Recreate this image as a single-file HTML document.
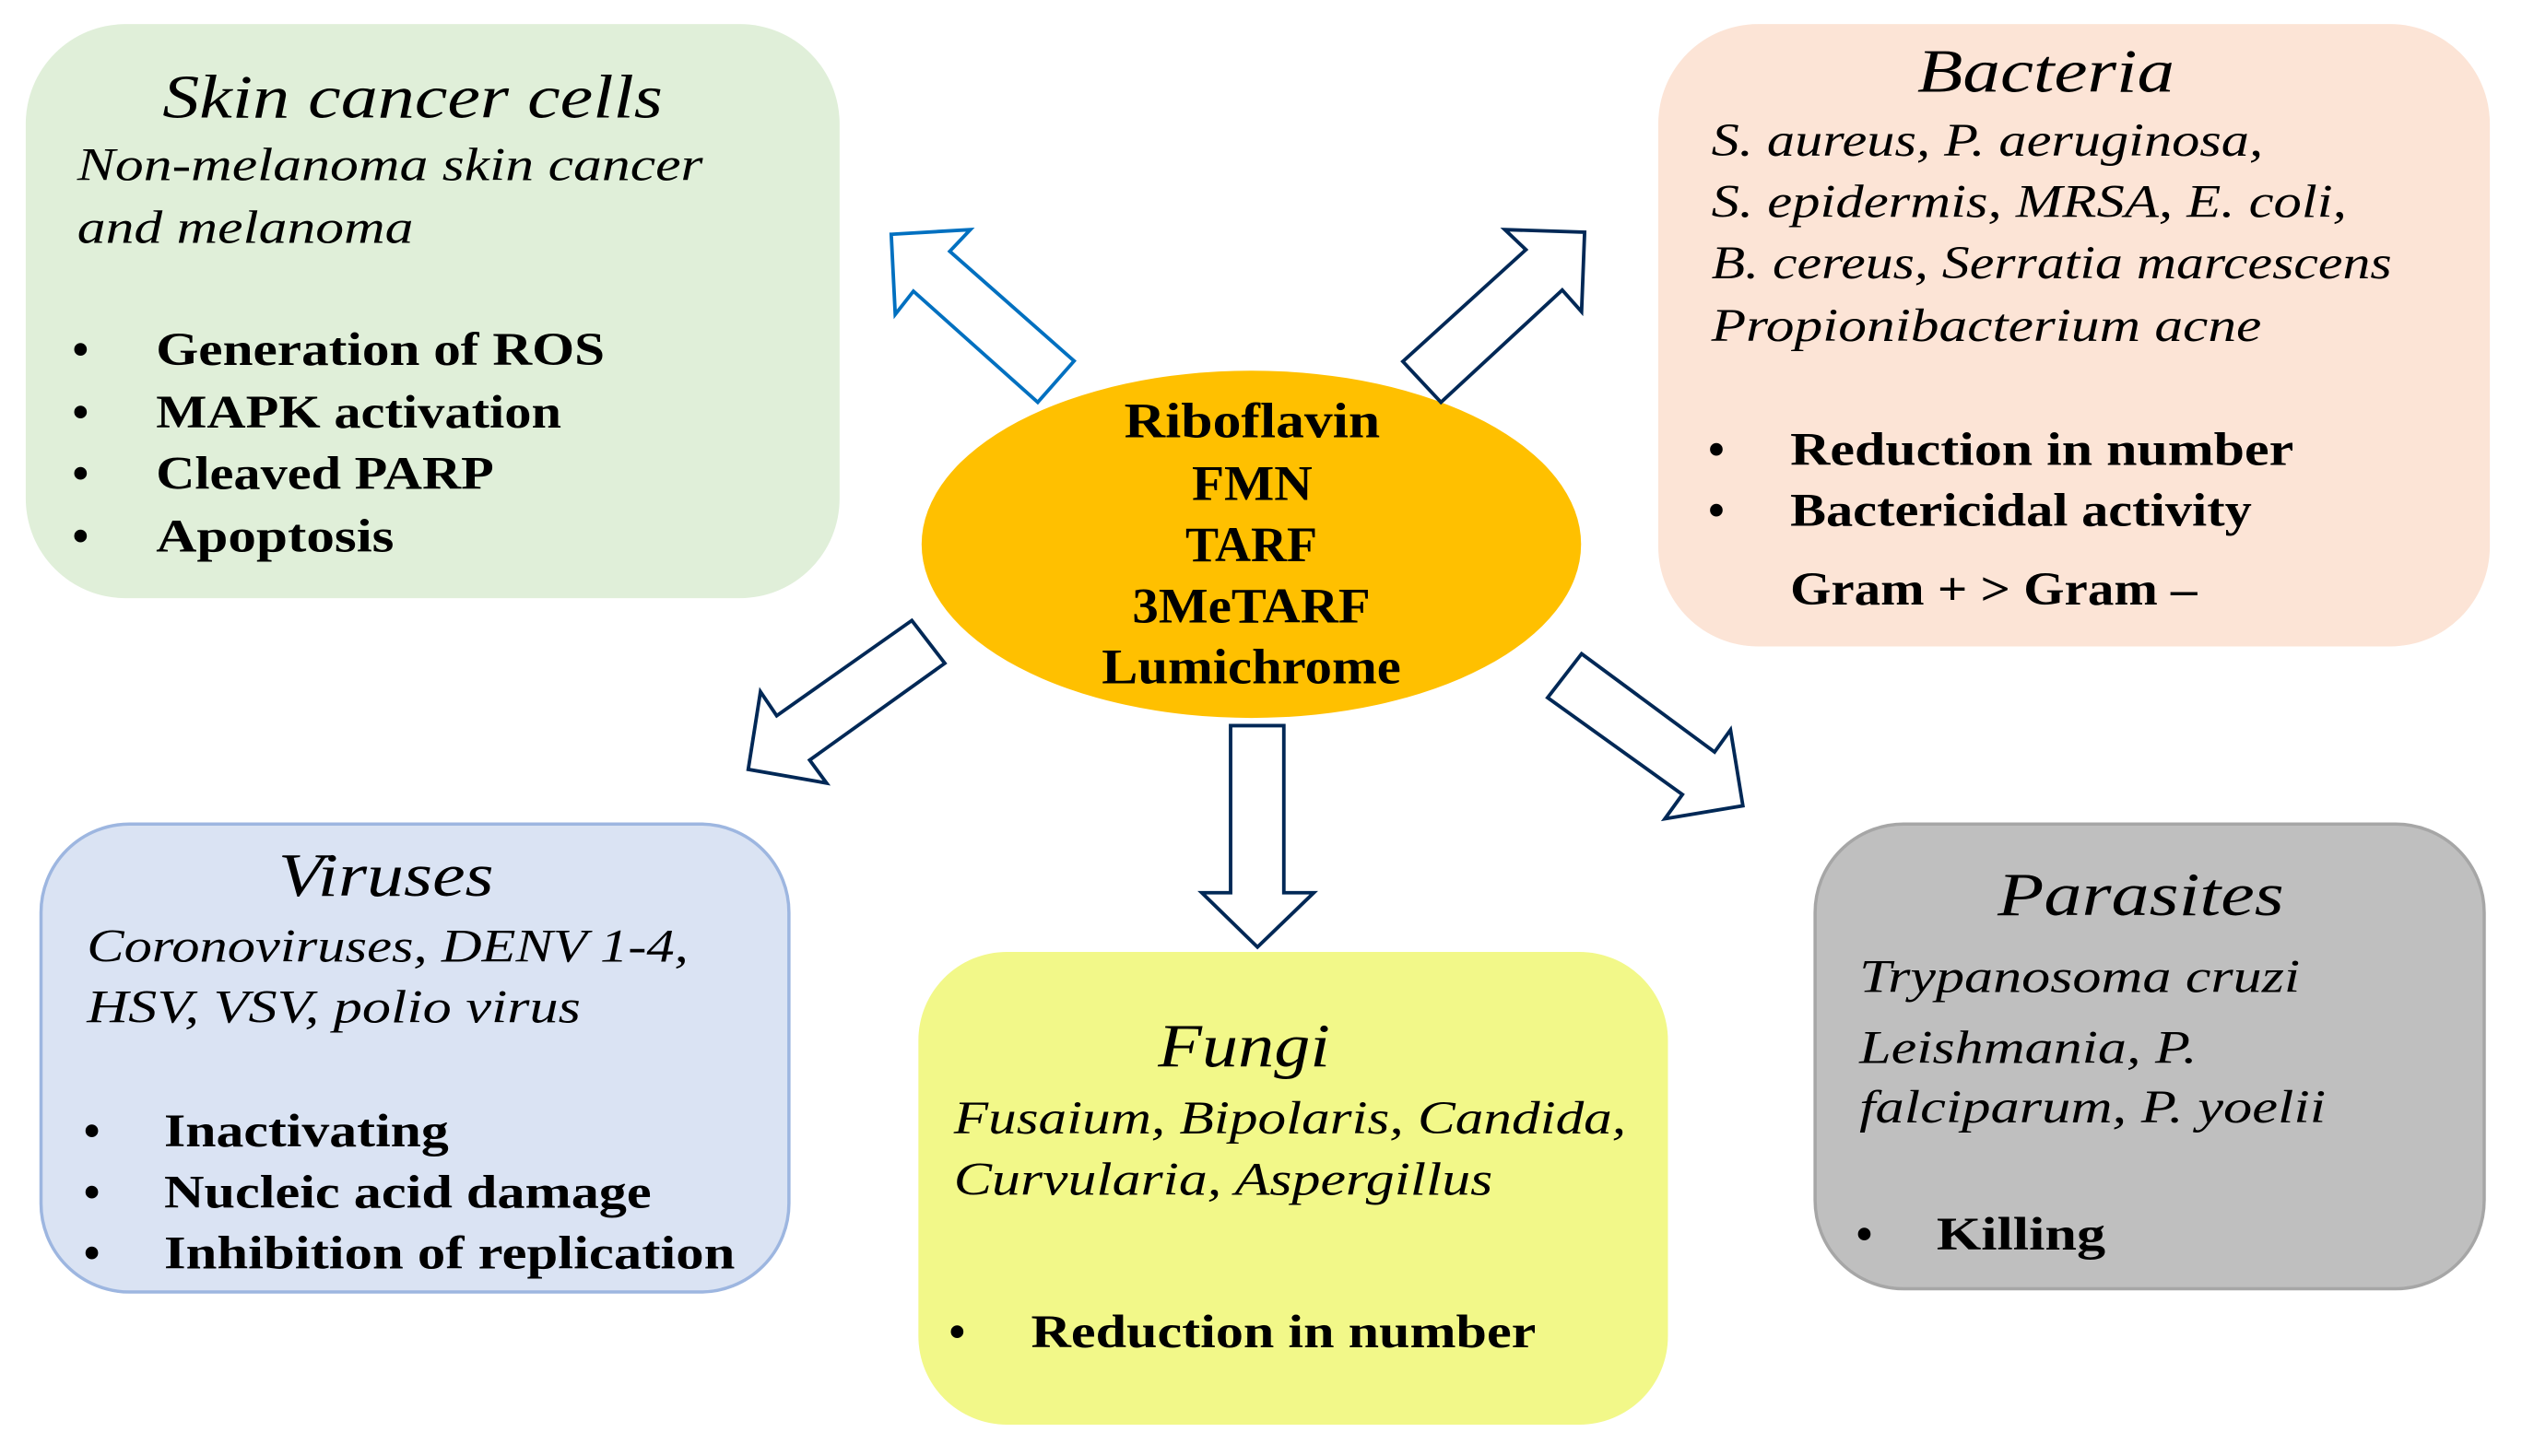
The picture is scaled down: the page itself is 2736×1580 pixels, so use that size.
<!DOCTYPE html>
<html><head><meta charset="utf-8"><style>
html,body{margin:0;padding:0;background:#fff}
svg{display:block}
text{font-family:"Liberation Serif","DejaVu Serif",serif;fill:#000}
.t{font-style:italic;font-size:38px}
.i{font-style:italic;font-size:29px}
.b{font-weight:bold;font-size:29px}
.c{font-weight:bold;font-size:31px}
</style></head><body>
<svg width="2736" height="1580" viewBox="0 0 1568 905.5" preserveAspectRatio="none" xmlns="http://www.w3.org/2000/svg">
<rect x="16" y="15" width="506" height="357" rx="62" fill="#e0efd9"/>
<rect x="1031" y="15" width="517" height="387" rx="62" fill="#fce4d6"/>
<rect x="25.5" y="512.5" width="465" height="291" rx="55" fill="#dae3f3" stroke="#9db6e0" stroke-width="2"/>
<rect x="571" y="592" width="466" height="294" rx="55" fill="#f2f889"/>
<rect x="1128.5" y="512.5" width="416" height="289" rx="55" fill="#bfbfbf" stroke="#a6a6a6" stroke-width="2"/>
<ellipse cx="778" cy="338.5" rx="205" ry="108" fill="#ffc000"/>
<g fill="#fff" stroke-width="2.2" stroke-linejoin="miter">
<polygon stroke="#0070c0" points="554.1,145.7 603.3,142.8 590.5,156.3 667.8,224.5 645.2,250.2 567.9,181.1 556.6,195.5"/>
<polygon stroke="#002856" points="935.6,142.8 985.2,144.4 983.3,193.9 971.3,180.4 895.9,250.2 872.2,224.8 948.7,155.3"/>
<polygon stroke="#002856" points="566.9,385.9 587.4,412.5 503.4,472.7 513.9,487 465.2,478.5 472.8,430.2 482.9,445.1"/>
<polygon stroke="#002856" points="765.1,451.3 798.2,451.3 798.2,555.2 816.8,555.2 781.8,589 747.2,555.2 765.1,555.2"/>
<polygon stroke="#002856" points="983.3,406.6 1066,467.7 1075.9,453.9 1083.6,501.1 1035.1,509.2 1046,494.1 962.2,433.9"/>
</g>
<text class="t" x="101" y="73" textLength="311" lengthAdjust="spacingAndGlyphs">Skin cancer cells</text>
<text class="i" x="48" y="112" textLength="389" lengthAdjust="spacingAndGlyphs">Non-melanoma skin cancer</text>
<text class="i" x="48" y="151" textLength="209" lengthAdjust="spacingAndGlyphs">and melanoma</text>
<text class="b" x="45" y="227">•</text><text class="b" x="97" y="227" textLength="279" lengthAdjust="spacingAndGlyphs">Generation of ROS</text>
<text class="b" x="45" y="266">•</text><text class="b" x="97" y="266" textLength="252" lengthAdjust="spacingAndGlyphs">MAPK activation</text>
<text class="b" x="45" y="304">•</text><text class="b" x="97" y="304" textLength="210" lengthAdjust="spacingAndGlyphs">Cleaved PARP</text>
<text class="b" x="45" y="343">•</text><text class="b" x="97" y="343" textLength="148" lengthAdjust="spacingAndGlyphs">Apoptosis</text>

<text class="t" x="1192" y="57" textLength="160" lengthAdjust="spacingAndGlyphs">Bacteria</text>
<text class="i" x="1064" y="97" textLength="343" lengthAdjust="spacingAndGlyphs">S. aureus, P. aeruginosa,</text>
<text class="i" x="1064" y="135" textLength="395" lengthAdjust="spacingAndGlyphs">S. epidermis, MRSA, E. coli,</text>
<text class="i" x="1064" y="173" textLength="423" lengthAdjust="spacingAndGlyphs">B. cereus, Serratia marcescens</text>
<text class="i" x="1064" y="212" textLength="342" lengthAdjust="spacingAndGlyphs">Propionibacterium acne</text>
<text class="b" x="1062" y="289">•</text><text class="b" x="1113" y="289" textLength="313" lengthAdjust="spacingAndGlyphs">Reduction in number</text>
<text class="b" x="1062" y="327">•</text><text class="b" x="1113" y="327" textLength="287" lengthAdjust="spacingAndGlyphs">Bactericidal activity</text>
<text class="b" x="1113" y="376" textLength="253" lengthAdjust="spacingAndGlyphs">Gram + &gt; Gram –</text>

<text class="c" x="699" y="272" textLength="159" lengthAdjust="spacingAndGlyphs">Riboflavin</text>
<text class="c" x="741" y="311" textLength="75" lengthAdjust="spacingAndGlyphs">FMN</text>
<text class="c" x="737" y="349" textLength="82" lengthAdjust="spacingAndGlyphs">TARF</text>
<text class="c" x="704" y="387" textLength="148" lengthAdjust="spacingAndGlyphs">3MeTARF</text>
<text class="c" x="685" y="425" textLength="186" lengthAdjust="spacingAndGlyphs">Lumichrome</text>

<text class="t" x="173" y="557" textLength="134" lengthAdjust="spacingAndGlyphs">Viruses</text>
<text class="i" x="54" y="598" textLength="374" lengthAdjust="spacingAndGlyphs">Coronoviruses, DENV 1-4,</text>
<text class="i" x="54" y="636" textLength="307" lengthAdjust="spacingAndGlyphs">HSV, VSV, polio virus</text>
<text class="b" x="52" y="713">•</text><text class="b" x="102" y="713" textLength="177" lengthAdjust="spacingAndGlyphs">Inactivating</text>
<text class="b" x="52" y="751">•</text><text class="b" x="102" y="751" textLength="303" lengthAdjust="spacingAndGlyphs">Nucleic acid damage</text>
<text class="b" x="52" y="789">•</text><text class="b" x="102" y="789" textLength="355" lengthAdjust="spacingAndGlyphs">Inhibition of replication</text>

<text class="t" x="720" y="663" textLength="107" lengthAdjust="spacingAndGlyphs">Fungi</text>
<text class="i" x="593" y="705" textLength="418" lengthAdjust="spacingAndGlyphs">Fusaium, Bipolaris, Candida,</text>
<text class="i" x="593" y="743" textLength="335" lengthAdjust="spacingAndGlyphs">Curvularia, Aspergillus</text>
<text class="b" x="590" y="838">•</text><text class="b" x="641" y="838" textLength="314" lengthAdjust="spacingAndGlyphs">Reduction in number</text>

<text class="t" x="1242" y="569" textLength="178" lengthAdjust="spacingAndGlyphs">Parasites</text>
<text class="i" x="1156" y="617" textLength="274" lengthAdjust="spacingAndGlyphs">Trypanosoma cruzi</text>
<text class="i" x="1156" y="661" textLength="210" lengthAdjust="spacingAndGlyphs">Leishmania, P.</text>
<text class="i" x="1156" y="698" textLength="290" lengthAdjust="spacingAndGlyphs">falciparum, P. yoelii</text>
<text class="b" x="1154" y="777">•</text><text class="b" x="1204" y="777" textLength="105" lengthAdjust="spacingAndGlyphs">Killing</text>
</svg>
</body></html>
